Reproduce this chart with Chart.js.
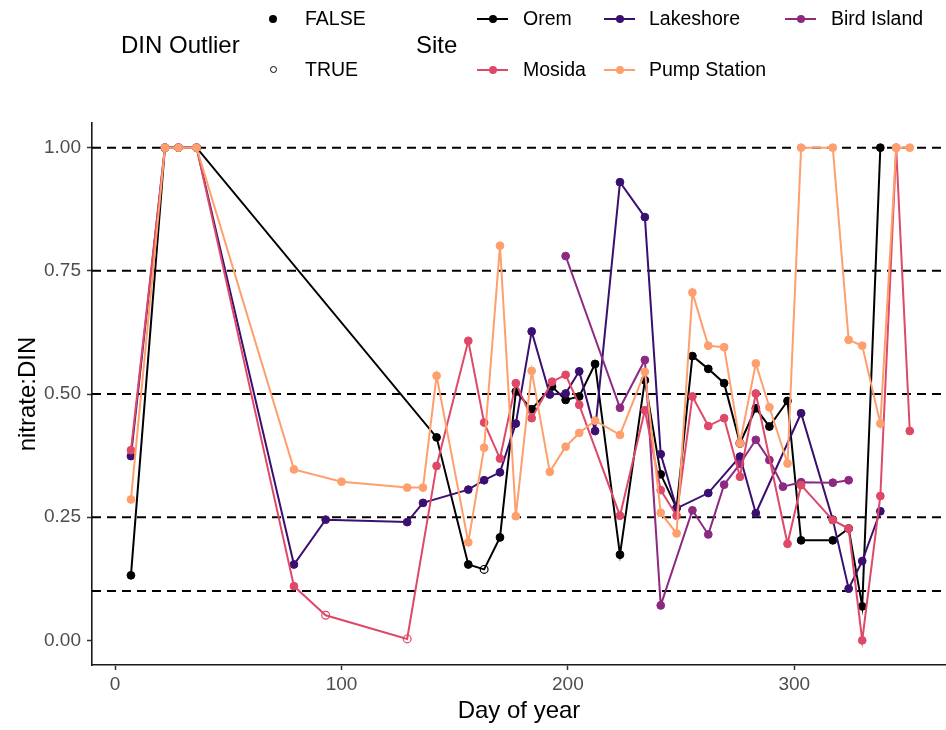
<!DOCTYPE html>
<html>
<head>
<meta charset="utf-8">
<script src="https://cdn.jsdelivr.net/npm/chart.js@4.4.1/dist/chart.umd.min.js"></script>
<style>
  html, body { margin: 0; padding: 0; background: #fff; }
  #wrap { position: relative; width: 946px; height: 730px; overflow: hidden;
          font-family: "Liberation Sans", Arial, sans-serif; }
  #chart { position: absolute; left: 0; top: 0; }
  .lg { position: absolute; white-space: nowrap; color: #000; line-height: 1; }
  .lgTitle { font-size: 24px; transform: translateY(-50%); }
  .lgText { font-size: 19.5px; transform: translateY(-50%); }
  .key { position: absolute; height: 0; }
  .keyLine { position: absolute; left: 0; width: 31px; height: 2px; top: -1px; }
  .keyDot { position: absolute; left: 11.5px; top: -4px; width: 8px; height: 8px; border-radius: 50%; }
  .shape { position: absolute; width: 8px; height: 8px; border-radius: 50%; box-sizing: border-box; }
</style>
</head>
<body>
<div id="wrap">
  <canvas id="chart" width="946" height="730"></canvas>
</div>
<script>
// ---- data: day of year and nitrate:DIN ratio per site ----
const siteNames  = ['Orem', 'Lakeshore', 'Bird Island', 'Mosida', 'Pump Station'];
const siteColors = ['#000004', '#3B0F70', '#8C2981', '#DE4968', '#FE9F6D'];

const oremDay = [7, 22, 28, 36, 142, 156, 163, 170, 177, 184, 193, 199, 205, 212, 223, 234, 241, 248, 255, 262, 269, 276, 283, 289, 297, 303, 317, 324, 330, 338];
const oremVal = [0.132, 1, 1, 1, 0.412, 0.154, 0.144, 0.209, 0.505, 0.469, 0.515, 0.488, 0.495, 0.561, 0.174, 0.528, 0.337, 0.269, 0.577, 0.551, 0.522, 0.400, 0.471, 0.434, 0.486, 0.203, 0.203, 0.227, 0.069, 1];
const oremOutlierDays = [163, 276];

const lakeshoreDay = [7, 22, 28, 36, 79, 93, 129, 136, 156, 163, 170, 177, 184, 192, 199, 205, 212, 223, 234, 241, 248, 262, 276, 283, 303, 317, 324, 330, 338];
const lakeshoreVal = [0.374, 1, 1, 1, 0.154, 0.245, 0.240, 0.279, 0.306, 0.325, 0.341, 0.440, 0.627, 0.499, 0.501, 0.546, 0.425, 0.930, 0.859, 0.378, 0.268, 0.299, 0.373, 0.258, 0.461, 0.245, 0.105, 0.161, 0.262];
const lakeshoreOutlierDays = [];

const birdDay = [199, 223, 234, 241, 255, 262, 269, 276, 283, 289, 295, 303, 317, 324];
const birdVal = [0.780, 0.472, 0.569, 0.071, 0.264, 0.215, 0.316, 0.358, 0.407, 0.366, 0.312, 0.321, 0.320, 0.325];
const birdOutlierDays = [];

const mosidaDay = [7, 22, 28, 36, 79, 93, 129, 142, 156, 163, 170, 177, 184, 193, 199, 205, 223, 234, 241, 248, 255, 262, 269, 276, 283, 297, 303, 317, 324, 330, 338, 345, 351];
const mosidaVal = [0.386, 1, 1, 1, 0.110, 0.051, 0.003, 0.354, 0.608, 0.442, 0.369, 0.522, 0.451, 0.525, 0.539, 0.478, 0.253, 0.467, 0.305, 0.253, 0.495, 0.435, 0.451, 0.332, 0.501, 0.196, 0.315, 0.244, 0.227, 0.0, 0.293, 1, 0.425];
const mosidaOutlierDays = [93, 129];

const pumpDay = [7, 22, 28, 36, 79, 100, 129, 136, 142, 156, 163, 170, 177, 184, 192, 199, 205, 212, 223, 234, 241, 248, 255, 262, 269, 276, 283, 289, 297, 303, 317, 324, 330, 338, 345, 351];
const pumpVal = [0.286, 1, 1, 1, 0.347, 0.322, 0.310, 0.310, 0.537, 0.199, 0.391, 0.801, 0.252, 0.547, 0.342, 0.393, 0.421, 0.446, 0.417, 0.545, 0.259, 0.217, 0.706, 0.598, 0.595, 0.400, 0.562, 0.473, 0.359, 1, 1, 0.610, 0.598, 0.440, 1, 1];
const pumpOutlierDays = [];

const xTicks = [0, 100, 200, 300];
const yTicks = [0, 0.25, 0.5, 0.75, 1];
const refLines = [0.1, 0.25, 0.5, 0.75, 1];
const outlierLabels = ['FALSE', 'TRUE'];

// ---- build datasets ----
const FONT = '"Liberation Sans", Arial, sans-serif';
const series = [
  [oremDay, oremVal, oremOutlierDays],
  [lakeshoreDay, lakeshoreVal, lakeshoreOutlierDays],
  [birdDay, birdVal, birdOutlierDays],
  [mosidaDay, mosidaVal, mosidaOutlierDays],
  [pumpDay, pumpVal, pumpOutlierDays]
];

const datasets = series.map(([days, vals, outDays], i) => {
  const color = siteColors[i];
  const isOut = days.map(d => outDays.includes(d));
  return {
    label: siteNames[i],
    data: days.map((d, k) => ({ x: d, y: vals[k] })),
    borderColor: color,
    borderWidth: 2,
    tension: 0,
    fill: false,
    clip: false,
    pointRadius: 3.9,
    pointHoverRadius: 3.9,
    pointBorderColor: color,
    pointBorderWidth: ctx => isOut[ctx.dataIndex] ? 1.2 : 1,
    pointBackgroundColor: ctx => isOut[ctx.dataIndex] ? 'rgba(255,255,255,0)' : color,
    order: siteNames.length - i
  };
});

// dashed horizontal reference lines across the panel
const refLinePlugin = {
  id: 'refLines',
  beforeDatasetsDraw(chart) {
    const { ctx, chartArea, scales } = chart;
    ctx.save();
    ctx.setLineDash([9, 6]);
    ctx.strokeStyle = '#000';
    ctx.lineWidth = 2;
    refLines.forEach(v => {
      const py = scales.y.getPixelForValue(v);
      ctx.beginPath();
      ctx.moveTo(chartArea.left, py);
      ctx.lineTo(chartArea.right, py);
      ctx.stroke();
    });
    ctx.restore();
  }
};

new Chart(document.getElementById('chart'), {
  type: 'line',
  data: { datasets },
  plugins: [refLinePlugin],
  options: {
    responsive: false,
    animation: false,
    events: [],
    layout: { autoPadding: false, padding: { top: 123, right: 0, bottom: 0, left: 0 } },
    plugins: { legend: { display: false }, tooltip: { enabled: false } },
    scales: {
      x: {
        type: 'linear',
        min: -10.2,
        max: 367,
        afterBuildTicks: s => { s.ticks = xTicks.map(v => ({ value: v })); },
        afterFit: s => { s.height = 65; s.paddingLeft = 0; s.paddingRight = 0; },
        grid: { display: true, drawOnChartArea: false, drawTicks: true, tickLength: 5, tickColor: '#333', tickWidth: 1.5 },
        border: { display: true, color: '#1a1a1a', width: 1.6 },
        ticks: { color: '#4d4d4d', font: { size: 19, family: FONT }, padding: 3, maxRotation: 0, callback: v => String(v) },
        title: { display: true, text: 'Day of year', color: '#000', font: { size: 24, family: FONT }, padding: { top: 0, bottom: 4 } }
      },
      y: {
        type: 'linear',
        min: -0.05,
        max: 1.05,
        afterBuildTicks: s => { s.ticks = yTicks.map(v => ({ value: v })); },
        afterFit: s => { s.width = 92; },
        grid: { display: true, drawOnChartArea: false, drawTicks: true, tickLength: 5, tickColor: '#333', tickWidth: 1.5 },
        border: { display: true, color: '#1a1a1a', width: 1.6 },
        ticks: { color: '#4d4d4d', font: { size: 19, family: FONT }, padding: 6, callback: v => v.toFixed(2) },
        title: { display: true, text: 'nitrate:DIN', color: '#000', font: { size: 24, family: FONT }, padding: { top: 14, bottom: 0 } }
      }
    }
  }
});

// ---- legend (HTML) ----
const wrap = document.getElementById('wrap');
function addText(cls, text, x, y) {
  const el = document.createElement('div');
  el.className = 'lg ' + cls;
  el.textContent = text;
  el.style.left = x + 'px';
  el.style.top = y + 'px';
  wrap.appendChild(el);
  return el;
}
const row1 = 19, row2 = 70, titleRow = 45;

addText('lgTitle', 'DIN Outlier', 121, titleRow);
outlierLabels.forEach((lab, i) => {
  const y = i === 0 ? row1 : row2;
  const s = document.createElement('div');
  s.className = 'shape';
  s.style.left = '269px';
  s.style.top = (y - 4) + 'px';
  if (i === 0) { s.style.background = '#000'; }
  else { s.style.border = '1.2px solid #000'; s.style.width = '7px'; s.style.height = '7px'; s.style.left = '269.5px'; }
  wrap.appendChild(s);
  addText('lgText', lab, 305, y);
});

addText('lgTitle', 'Site', 416, titleRow);
const colKey = [477, 604, 785];
const colText = [523, 649, 831];
siteNames.forEach((name, i) => {
  const col = i % 3, row = Math.floor(i / 3);
  const y = row === 0 ? row1 : row2;
  const k = document.createElement('div');
  k.className = 'key';
  k.style.left = colKey[col] + 'px';
  k.style.top = y + 'px';
  k.innerHTML = '<div class="keyLine" style="background:' + siteColors[i] + '"></div>' +
                '<div class="keyDot" style="background:' + siteColors[i] + '"></div>';
  wrap.appendChild(k);
  addText('lgText', name, colText[col], y);
});
</script>
</body>
</html>
